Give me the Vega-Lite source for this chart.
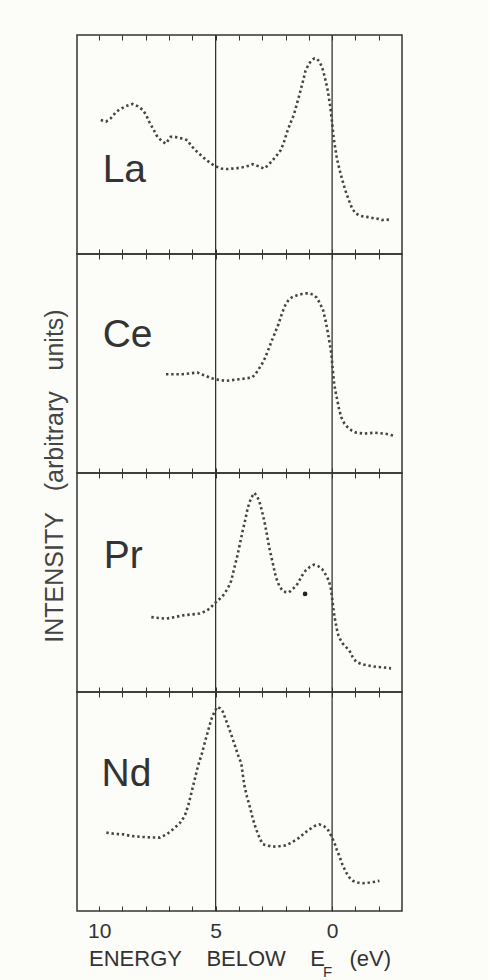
{
  "$schema": "https://vega.github.io/schema/vega-lite/v6.json",
  "background": "#fcfcf9",
  "padding": {"left": 43, "top": 33, "right": 85, "bottom": 2},
  "bounds": "flush",
  "spacing": 0,
  "config": {
    "view": {"stroke": "#333", "strokeWidth": 1.5},
    "font": "Liberation Sans"
  },
  "title": {
    "text": "INTENSITY\u00a0\u00a0\u00a0(arbitrary\u00a0\u00a0\u00a0units)",
    "orient": "left",
    "anchor": "middle",
    "frame": "bounds",
    "font": "Liberation Sans",
    "fontSize": 25,
    "fontWeight": "normal",
    "color": "#444",
    "offset": 8,
    "dx": 31
  },
  "datasets": {
    "refs": [{"energy": 5}, {"energy": 0}],
    "spectra": [
      {"element": "La", "energy": 9.93, "intensity": 0.612},
      {"element": "La", "energy": 9.7, "intensity": 0.605},
      {"element": "La", "energy": 9.5, "intensity": 0.62},
      {"element": "La", "energy": 9.3, "intensity": 0.645},
      {"element": "La", "energy": 9.14, "intensity": 0.659},
      {"element": "La", "energy": 8.85, "intensity": 0.675},
      {"element": "La", "energy": 8.57, "intensity": 0.685},
      {"element": "La", "energy": 8.35, "intensity": 0.675},
      {"element": "La", "energy": 8.14, "intensity": 0.659},
      {"element": "La", "energy": 7.98, "intensity": 0.635},
      {"element": "La", "energy": 7.86, "intensity": 0.605},
      {"element": "La", "energy": 7.7, "intensity": 0.575},
      {"element": "La", "energy": 7.5, "intensity": 0.535},
      {"element": "La", "energy": 7.3, "intensity": 0.515},
      {"element": "La", "energy": 7.14, "intensity": 0.504},
      {"element": "La", "energy": 6.93, "intensity": 0.535},
      {"element": "La", "energy": 6.75, "intensity": 0.535},
      {"element": "La", "energy": 6.57, "intensity": 0.53},
      {"element": "La", "energy": 6.4, "intensity": 0.527},
      {"element": "La", "energy": 6.21, "intensity": 0.519},
      {"element": "La", "energy": 6.05, "intensity": 0.495},
      {"element": "La", "energy": 5.86, "intensity": 0.473},
      {"element": "La", "energy": 5.6, "intensity": 0.448},
      {"element": "La", "energy": 5.36, "intensity": 0.426},
      {"element": "La", "energy": 5.15, "intensity": 0.41},
      {"element": "La", "energy": 5.0, "intensity": 0.4},
      {"element": "La", "energy": 4.75, "intensity": 0.39},
      {"element": "La", "energy": 4.5, "intensity": 0.388},
      {"element": "La", "energy": 4.3, "intensity": 0.39},
      {"element": "La", "energy": 4.07, "intensity": 0.392},
      {"element": "La", "energy": 3.8, "intensity": 0.397},
      {"element": "La", "energy": 3.57, "intensity": 0.403},
      {"element": "La", "energy": 3.4, "intensity": 0.41},
      {"element": "La", "energy": 3.29, "intensity": 0.406},
      {"element": "La", "energy": 3.1, "intensity": 0.398},
      {"element": "La", "energy": 2.93, "intensity": 0.39},
      {"element": "La", "energy": 2.75, "intensity": 0.405},
      {"element": "La", "energy": 2.57, "intensity": 0.426},
      {"element": "La", "energy": 2.4, "intensity": 0.447},
      {"element": "La", "energy": 2.21, "intensity": 0.473},
      {"element": "La", "energy": 2.07, "intensity": 0.51},
      {"element": "La", "energy": 1.93, "intensity": 0.558},
      {"element": "La", "energy": 1.78, "intensity": 0.6},
      {"element": "La", "energy": 1.64, "intensity": 0.636},
      {"element": "La", "energy": 1.5, "intensity": 0.69},
      {"element": "La", "energy": 1.36, "intensity": 0.744},
      {"element": "La", "energy": 1.25, "intensity": 0.79},
      {"element": "La", "energy": 1.14, "intensity": 0.837},
      {"element": "La", "energy": 1.0, "intensity": 0.868},
      {"element": "La", "energy": 0.86, "intensity": 0.887},
      {"element": "La", "energy": 0.75, "intensity": 0.893},
      {"element": "La", "energy": 0.64, "intensity": 0.891},
      {"element": "La", "energy": 0.53, "intensity": 0.875},
      {"element": "La", "energy": 0.43, "intensity": 0.853},
      {"element": "La", "energy": 0.32, "intensity": 0.81},
      {"element": "La", "energy": 0.21, "intensity": 0.76},
      {"element": "La", "energy": 0.14, "intensity": 0.715},
      {"element": "La", "energy": 0.07, "intensity": 0.667},
      {"element": "La", "energy": 0.0, "intensity": 0.6},
      {"element": "La", "energy": -0.07, "intensity": 0.527},
      {"element": "La", "energy": -0.14, "intensity": 0.48},
      {"element": "La", "energy": -0.21, "intensity": 0.434},
      {"element": "La", "energy": -0.32, "intensity": 0.385},
      {"element": "La", "energy": -0.43, "intensity": 0.341},
      {"element": "La", "energy": -0.57, "intensity": 0.29},
      {"element": "La", "energy": -0.71, "intensity": 0.248},
      {"element": "La", "energy": -0.85, "intensity": 0.21},
      {"element": "La", "energy": -1.0, "intensity": 0.186},
      {"element": "La", "energy": -1.2, "intensity": 0.175},
      {"element": "La", "energy": -1.36, "intensity": 0.171},
      {"element": "La", "energy": -1.6, "intensity": 0.168},
      {"element": "La", "energy": -1.79, "intensity": 0.163},
      {"element": "La", "energy": -2.0, "intensity": 0.16},
      {"element": "La", "energy": -2.14, "intensity": 0.155},
      {"element": "La", "energy": -2.3, "intensity": 0.158},
      {"element": "La", "energy": -2.5, "intensity": 0.155},
      {"element": "Ce", "energy": 7.13, "intensity": 0.451},
      {"element": "Ce", "energy": 6.8, "intensity": 0.451},
      {"element": "Ce", "energy": 6.42, "intensity": 0.451},
      {"element": "Ce", "energy": 6.1, "intensity": 0.455},
      {"element": "Ce", "energy": 5.78, "intensity": 0.459},
      {"element": "Ce", "energy": 5.6, "intensity": 0.45},
      {"element": "Ce", "energy": 5.43, "intensity": 0.444},
      {"element": "Ce", "energy": 5.2, "intensity": 0.433},
      {"element": "Ce", "energy": 5.0, "intensity": 0.428},
      {"element": "Ce", "energy": 4.8, "intensity": 0.424},
      {"element": "Ce", "energy": 4.57, "intensity": 0.421},
      {"element": "Ce", "energy": 4.3, "intensity": 0.424},
      {"element": "Ce", "energy": 4.0, "intensity": 0.428},
      {"element": "Ce", "energy": 3.7, "intensity": 0.432},
      {"element": "Ce", "energy": 3.44, "intensity": 0.436},
      {"element": "Ce", "energy": 3.3, "intensity": 0.45},
      {"element": "Ce", "energy": 3.15, "intensity": 0.474},
      {"element": "Ce", "energy": 3.0, "intensity": 0.5},
      {"element": "Ce", "energy": 2.87, "intensity": 0.527},
      {"element": "Ce", "energy": 2.73, "intensity": 0.565},
      {"element": "Ce", "energy": 2.59, "intensity": 0.604},
      {"element": "Ce", "energy": 2.45, "intensity": 0.64},
      {"element": "Ce", "energy": 2.3, "intensity": 0.68},
      {"element": "Ce", "energy": 2.15, "intensity": 0.73},
      {"element": "Ce", "energy": 2.02, "intensity": 0.764},
      {"element": "Ce", "energy": 1.88, "intensity": 0.788},
      {"element": "Ce", "energy": 1.73, "intensity": 0.802},
      {"element": "Ce", "energy": 1.5, "intensity": 0.812},
      {"element": "Ce", "energy": 1.31, "intensity": 0.817},
      {"element": "Ce", "energy": 1.1, "intensity": 0.82},
      {"element": "Ce", "energy": 0.95, "intensity": 0.82},
      {"element": "Ce", "energy": 0.8, "intensity": 0.813},
      {"element": "Ce", "energy": 0.67, "intensity": 0.802},
      {"element": "Ce", "energy": 0.52, "intensity": 0.775},
      {"element": "Ce", "energy": 0.38, "intensity": 0.741},
      {"element": "Ce", "energy": 0.27, "intensity": 0.69},
      {"element": "Ce", "energy": 0.17, "intensity": 0.634},
      {"element": "Ce", "energy": 0.1, "intensity": 0.59},
      {"element": "Ce", "energy": 0.03, "intensity": 0.543},
      {"element": "Ce", "energy": -0.03, "intensity": 0.47},
      {"element": "Ce", "energy": -0.09, "intensity": 0.405},
      {"element": "Ce", "energy": -0.16, "intensity": 0.365},
      {"element": "Ce", "energy": -0.23, "intensity": 0.329},
      {"element": "Ce", "energy": -0.3, "intensity": 0.29},
      {"element": "Ce", "energy": -0.4, "intensity": 0.253},
      {"element": "Ce", "energy": -0.53, "intensity": 0.225},
      {"element": "Ce", "energy": -0.68, "intensity": 0.207},
      {"element": "Ce", "energy": -0.85, "intensity": 0.193},
      {"element": "Ce", "energy": -1.04, "intensity": 0.184},
      {"element": "Ce", "energy": -1.2, "intensity": 0.182},
      {"element": "Ce", "energy": -1.39, "intensity": 0.18},
      {"element": "Ce", "energy": -1.6, "intensity": 0.182},
      {"element": "Ce", "energy": -1.82, "intensity": 0.184},
      {"element": "Ce", "energy": -2.0, "intensity": 0.182},
      {"element": "Ce", "energy": -2.24, "intensity": 0.18},
      {"element": "Ce", "energy": -2.45, "intensity": 0.176},
      {"element": "Ce", "energy": -2.67, "intensity": 0.169},
      {"element": "Pr", "energy": 7.76, "intensity": 0.342},
      {"element": "Pr", "energy": 7.45, "intensity": 0.338},
      {"element": "Pr", "energy": 7.11, "intensity": 0.335},
      {"element": "Pr", "energy": 6.75, "intensity": 0.342},
      {"element": "Pr", "energy": 6.4, "intensity": 0.35},
      {"element": "Pr", "energy": 6.05, "intensity": 0.354},
      {"element": "Pr", "energy": 5.69, "intensity": 0.358},
      {"element": "Pr", "energy": 5.45, "intensity": 0.368},
      {"element": "Pr", "energy": 5.26, "intensity": 0.38},
      {"element": "Pr", "energy": 5.04, "intensity": 0.405},
      {"element": "Pr", "energy": 4.8, "intensity": 0.428},
      {"element": "Pr", "energy": 4.62, "intensity": 0.448},
      {"element": "Pr", "energy": 4.45, "intensity": 0.48},
      {"element": "Pr", "energy": 4.33, "intensity": 0.508},
      {"element": "Pr", "energy": 4.2, "intensity": 0.565},
      {"element": "Pr", "energy": 4.05, "intensity": 0.63},
      {"element": "Pr", "energy": 3.95, "intensity": 0.68},
      {"element": "Pr", "energy": 3.84, "intensity": 0.735},
      {"element": "Pr", "energy": 3.72, "intensity": 0.79},
      {"element": "Pr", "energy": 3.62, "intensity": 0.841},
      {"element": "Pr", "energy": 3.48, "intensity": 0.885},
      {"element": "Pr", "energy": 3.34, "intensity": 0.909},
      {"element": "Pr", "energy": 3.23, "intensity": 0.895},
      {"element": "Pr", "energy": 3.13, "intensity": 0.872},
      {"element": "Pr", "energy": 3.02, "intensity": 0.83},
      {"element": "Pr", "energy": 2.91, "intensity": 0.781},
      {"element": "Pr", "energy": 2.8, "intensity": 0.72},
      {"element": "Pr", "energy": 2.7, "intensity": 0.66},
      {"element": "Pr", "energy": 2.55, "intensity": 0.59},
      {"element": "Pr", "energy": 2.41, "intensity": 0.523},
      {"element": "Pr", "energy": 2.27, "intensity": 0.485},
      {"element": "Pr", "energy": 2.13, "intensity": 0.463},
      {"element": "Pr", "energy": 1.99, "intensity": 0.456},
      {"element": "Pr", "energy": 1.85, "intensity": 0.455},
      {"element": "Pr", "energy": 1.67, "intensity": 0.472},
      {"element": "Pr", "energy": 1.49, "intensity": 0.493},
      {"element": "Pr", "energy": 1.3, "intensity": 0.53},
      {"element": "Pr", "energy": 1.14, "intensity": 0.554},
      {"element": "Pr", "energy": 0.95, "intensity": 0.572},
      {"element": "Pr", "energy": 0.78, "intensity": 0.581},
      {"element": "Pr", "energy": 0.6, "intensity": 0.575},
      {"element": "Pr", "energy": 0.43, "intensity": 0.561},
      {"element": "Pr", "energy": 0.27, "intensity": 0.535},
      {"element": "Pr", "energy": 0.14, "intensity": 0.508},
      {"element": "Pr", "energy": 0.05, "intensity": 0.47},
      {"element": "Pr", "energy": 0.0, "intensity": 0.43},
      {"element": "Pr", "energy": -0.05, "intensity": 0.385},
      {"element": "Pr", "energy": -0.1, "intensity": 0.345},
      {"element": "Pr", "energy": -0.24, "intensity": 0.267},
      {"element": "Pr", "energy": -0.35, "intensity": 0.24},
      {"element": "Pr", "energy": -0.46, "intensity": 0.221},
      {"element": "Pr", "energy": -0.6, "intensity": 0.205},
      {"element": "Pr", "energy": -0.74, "intensity": 0.19},
      {"element": "Pr", "energy": -0.88, "intensity": 0.16},
      {"element": "Pr", "energy": -1.03, "intensity": 0.138},
      {"element": "Pr", "energy": -1.25, "intensity": 0.128},
      {"element": "Pr", "energy": -1.46, "intensity": 0.123},
      {"element": "Pr", "energy": -1.7, "intensity": 0.118},
      {"element": "Pr", "energy": -1.89, "intensity": 0.115},
      {"element": "Pr", "energy": -2.2, "intensity": 0.112},
      {"element": "Pr", "energy": -2.53, "intensity": 0.108},
      {"element": "Nd", "energy": 9.69, "intensity": 0.358},
      {"element": "Nd", "energy": 9.3, "intensity": 0.352},
      {"element": "Nd", "energy": 8.97, "intensity": 0.35},
      {"element": "Nd", "energy": 8.6, "intensity": 0.342},
      {"element": "Nd", "energy": 8.26, "intensity": 0.339},
      {"element": "Nd", "energy": 7.8, "intensity": 0.336},
      {"element": "Nd", "energy": 7.4, "intensity": 0.335},
      {"element": "Nd", "energy": 7.1, "intensity": 0.35},
      {"element": "Nd", "energy": 6.83, "intensity": 0.373},
      {"element": "Nd", "energy": 6.55, "intensity": 0.4},
      {"element": "Nd", "energy": 6.33, "intensity": 0.433},
      {"element": "Nd", "energy": 6.18, "intensity": 0.48},
      {"element": "Nd", "energy": 6.04, "intensity": 0.539},
      {"element": "Nd", "energy": 5.9, "intensity": 0.6},
      {"element": "Nd", "energy": 5.76, "intensity": 0.661},
      {"element": "Nd", "energy": 5.6, "intensity": 0.715},
      {"element": "Nd", "energy": 5.47, "intensity": 0.767},
      {"element": "Nd", "energy": 5.33, "intensity": 0.82},
      {"element": "Nd", "energy": 5.19, "intensity": 0.873},
      {"element": "Nd", "energy": 5.05, "intensity": 0.91},
      {"element": "Nd", "energy": 4.93, "intensity": 0.933},
      {"element": "Nd", "energy": 4.8, "intensity": 0.925},
      {"element": "Nd", "energy": 4.69, "intensity": 0.91},
      {"element": "Nd", "energy": 4.55, "intensity": 0.87},
      {"element": "Nd", "energy": 4.4, "intensity": 0.827},
      {"element": "Nd", "energy": 4.25, "intensity": 0.78},
      {"element": "Nd", "energy": 4.11, "intensity": 0.736},
      {"element": "Nd", "energy": 4.0, "intensity": 0.7},
      {"element": "Nd", "energy": 3.9, "intensity": 0.676},
      {"element": "Nd", "energy": 3.83, "intensity": 0.62},
      {"element": "Nd", "energy": 3.76, "intensity": 0.57},
      {"element": "Nd", "energy": 3.65, "intensity": 0.52},
      {"element": "Nd", "energy": 3.54, "intensity": 0.479},
      {"element": "Nd", "energy": 3.4, "intensity": 0.42},
      {"element": "Nd", "energy": 3.26, "intensity": 0.373},
      {"element": "Nd", "energy": 3.1, "intensity": 0.33},
      {"element": "Nd", "energy": 2.97, "intensity": 0.305},
      {"element": "Nd", "energy": 2.75, "intensity": 0.298},
      {"element": "Nd", "energy": 2.54, "intensity": 0.294},
      {"element": "Nd", "energy": 2.25, "intensity": 0.296},
      {"element": "Nd", "energy": 1.97, "intensity": 0.3},
      {"element": "Nd", "energy": 1.7, "intensity": 0.315},
      {"element": "Nd", "energy": 1.4, "intensity": 0.335},
      {"element": "Nd", "energy": 1.2, "intensity": 0.355},
      {"element": "Nd", "energy": 0.97, "intensity": 0.373},
      {"element": "Nd", "energy": 0.75, "intensity": 0.388},
      {"element": "Nd", "energy": 0.54, "intensity": 0.395},
      {"element": "Nd", "energy": 0.35, "intensity": 0.387},
      {"element": "Nd", "energy": 0.19, "intensity": 0.373},
      {"element": "Nd", "energy": 0.05, "intensity": 0.345},
      {"element": "Nd", "energy": -0.1, "intensity": 0.312},
      {"element": "Nd", "energy": -0.2, "intensity": 0.28},
      {"element": "Nd", "energy": -0.31, "intensity": 0.251},
      {"element": "Nd", "energy": -0.45, "intensity": 0.21},
      {"element": "Nd", "energy": -0.6, "intensity": 0.176},
      {"element": "Nd", "energy": -0.75, "intensity": 0.152},
      {"element": "Nd", "energy": -0.89, "intensity": 0.138},
      {"element": "Nd", "energy": -1.1, "intensity": 0.13},
      {"element": "Nd", "energy": -1.31, "intensity": 0.127},
      {"element": "Nd", "energy": -1.6, "intensity": 0.13},
      {"element": "Nd", "energy": -1.8, "intensity": 0.133},
      {"element": "Nd", "energy": -2.03, "intensity": 0.138}
    ]
  },
  "vconcat": [
    {
      "width": 325, "height": 219,
      "layer": [
        {"data": {"name": "refs"}, "mark": {"type": "rule", "color": "#333", "strokeWidth": 1.3},
         "encoding": {"x": {"field": "energy", "type": "quantitative", "scale": {"domain": [-3, 10.95], "reverse": true, "nice": false, "zero": false},
           "axis": {"orient": "bottom", "values": [-2, -1, 0, 1, 2, 3, 4, 5, 6, 7, 8, 9, 10], "tickSize": -5, "tickColor": "#333", "labels": false, "domain": false, "grid": false, "title": null}}}},
        {"data": {"name": "spectra"}, "transform": [{"filter": "datum.element === 'La'"}],
         "mark": {"type": "line", "color": "#444", "strokeWidth": 2.6, "strokeDash": [2.4, 2.8]},
         "encoding": {"x": {"field": "energy", "type": "quantitative",
           "axis": {"orient": "top", "values": [-2, -1, 0, 1, 2, 3, 4, 5, 6, 7, 8, 9, 10], "tickSize": -5, "tickColor": "#333", "labels": false, "domain": false, "grid": false, "title": null}},
           "y": {"field": "intensity", "type": "quantitative", "scale": {"domain": [0, 1], "nice": false, "zero": false}, "axis": null}}},
        {"data": {"values": [{"label": "La"}]}, "mark": {"type": "text", "align": "left", "baseline": "middle", "fontSize": 39, "color": "#333", "font": "Liberation Sans"},
         "encoding": {"x": {"datum": 9.85, "type": "quantitative", "axis": null}, "y": {"datum": 0.385, "type": "quantitative", "axis": null}, "text": {"field": "label"}}}
      ],
      "resolve": {"axis": {"x": "independent"}}
    },
    {
      "width": 325, "height": 219,
      "layer": [
        {"data": {"name": "refs"}, "mark": {"type": "rule", "color": "#333", "strokeWidth": 1.3},
         "encoding": {"x": {"field": "energy", "type": "quantitative", "scale": {"domain": [-3, 10.95], "reverse": true, "nice": false, "zero": false},
           "axis": {"orient": "bottom", "values": [-2, -1, 0, 1, 2, 3, 4, 5, 6, 7, 8, 9, 10], "tickSize": -5, "tickColor": "#333", "labels": false, "domain": false, "grid": false, "title": null}}}},
        {"data": {"name": "spectra"}, "transform": [{"filter": "datum.element === 'Ce'"}],
         "mark": {"type": "line", "color": "#444", "strokeWidth": 2.6, "strokeDash": [2.4, 2.8]},
         "encoding": {"x": {"field": "energy", "type": "quantitative",
           "axis": {"orient": "top", "values": [-2, -1, 0, 1, 2, 3, 4, 5, 6, 7, 8, 9, 10], "tickSize": -5, "tickColor": "#333", "labels": false, "domain": false, "grid": false, "title": null}},
           "y": {"field": "intensity", "type": "quantitative", "scale": {"domain": [0, 1], "nice": false, "zero": false}, "axis": null}}},
        {"data": {"values": [{"label": "Ce"}]}, "mark": {"type": "text", "align": "left", "baseline": "middle", "fontSize": 39, "color": "#333", "font": "Liberation Sans"},
         "encoding": {"x": {"datum": 9.85, "type": "quantitative", "axis": null}, "y": {"datum": 0.63, "type": "quantitative", "axis": null}, "text": {"field": "label"}}}
      ],
      "resolve": {"axis": {"x": "independent"}}
    },
    {
      "width": 325, "height": 219,
      "layer": [
        {"data": {"name": "refs"}, "mark": {"type": "rule", "color": "#333", "strokeWidth": 1.3},
         "encoding": {"x": {"field": "energy", "type": "quantitative", "scale": {"domain": [-3, 10.95], "reverse": true, "nice": false, "zero": false},
           "axis": {"orient": "bottom", "values": [-2, -1, 0, 1, 2, 3, 4, 5, 6, 7, 8, 9, 10], "tickSize": -5, "tickColor": "#333", "labels": false, "domain": false, "grid": false, "title": null}}}},
        {"data": {"name": "spectra"}, "transform": [{"filter": "datum.element === 'Pr'"}],
         "mark": {"type": "line", "color": "#444", "strokeWidth": 2.6, "strokeDash": [2.4, 2.8]},
         "encoding": {"x": {"field": "energy", "type": "quantitative",
           "axis": {"orient": "top", "values": [-2, -1, 0, 1, 2, 3, 4, 5, 6, 7, 8, 9, 10], "tickSize": -5, "tickColor": "#333", "labels": false, "domain": false, "grid": false, "title": null}},
           "y": {"field": "intensity", "type": "quantitative", "scale": {"domain": [0, 1], "nice": false, "zero": false}, "axis": null}}},
        {"data": {"values": [{"energy": 1.16, "intensity": 0.448}]}, "mark": {"type": "point", "filled": true, "size": 22, "color": "#222", "opacity": 1},
         "encoding": {"x": {"field": "energy", "type": "quantitative", "axis": null}, "y": {"field": "intensity", "type": "quantitative", "axis": null}}},
        {"data": {"values": [{"label": "Pr"}]}, "mark": {"type": "text", "align": "left", "baseline": "middle", "fontSize": 39, "color": "#333", "font": "Liberation Sans"},
         "encoding": {"x": {"datum": 9.8, "type": "quantitative", "axis": null}, "y": {"datum": 0.62, "type": "quantitative", "axis": null}, "text": {"field": "label"}}}
      ],
      "resolve": {"axis": {"x": "independent"}}
    },
    {
      "width": 325, "height": 219,
      "layer": [
        {"data": {"name": "refs"}, "mark": {"type": "rule", "color": "#333", "strokeWidth": 1.3},
         "encoding": {"x": {"field": "energy", "type": "quantitative", "scale": {"domain": [-3, 10.95], "reverse": true, "nice": false, "zero": false},
           "axis": {"orient": "bottom", "values": [-2, -1, 0, 1, 2, 3, 4, 5, 6, 7, 8, 9, 10], "tickSize": -5, "tickColor": "#333", "labels": true, "labelExpr": "datum.value === 10 || datum.value === 5 || datum.value === 0 ? datum.label : ''", "labelFont": "Liberation Sans", "labelFontSize": 21, "labelColor": "#333", "labelPadding": 14, "domain": false, "grid": false,
             "title": "ENERGY\u00a0\u00a0\u00a0\u00a0BELOW\u00a0\u00a0\u00a0\u00a0E\u00a0\u00a0\u00a0\u00a0(eV)", "titleFont": "Liberation Sans", "titleFontSize": 22, "titleFontWeight": "normal", "titleColor": "#333", "titlePadding": 7}}}},
        {"data": {"name": "spectra"}, "transform": [{"filter": "datum.element === 'Nd'"}],
         "mark": {"type": "line", "color": "#444", "strokeWidth": 2.6, "strokeDash": [2.4, 2.8]},
         "encoding": {"x": {"field": "energy", "type": "quantitative",
           "axis": {"orient": "top", "values": [-2, -1, 0, 1, 2, 3, 4, 5, 6, 7, 8, 9, 10], "tickSize": -5, "tickColor": "#333", "labels": false, "domain": false, "grid": false, "title": null}},
           "y": {"field": "intensity", "type": "quantitative", "scale": {"domain": [0, 1], "nice": false, "zero": false}, "axis": null}}},
        {"data": {"values": [{"label": "Nd"}]}, "mark": {"type": "text", "align": "left", "baseline": "middle", "fontSize": 39, "color": "#333", "font": "Liberation Sans"},
         "encoding": {"x": {"datum": 9.9, "type": "quantitative", "axis": null}, "y": {"datum": 0.627, "type": "quantitative", "axis": null}, "text": {"field": "label"}}},
        {"data": {"values": [{"label": "F"}]}, "mark": {"type": "text", "align": "left", "baseline": "alphabetic", "fontSize": 15, "color": "#333", "font": "Liberation Sans", "clip": false},
         "encoding": {"x": {"datum": 0.39, "type": "quantitative", "axis": null}, "y": {"datum": -0.3, "type": "quantitative", "axis": null}, "text": {"field": "label"}}}
      ],
      "resolve": {"axis": {"x": "independent"}}
    }
  ]
}
